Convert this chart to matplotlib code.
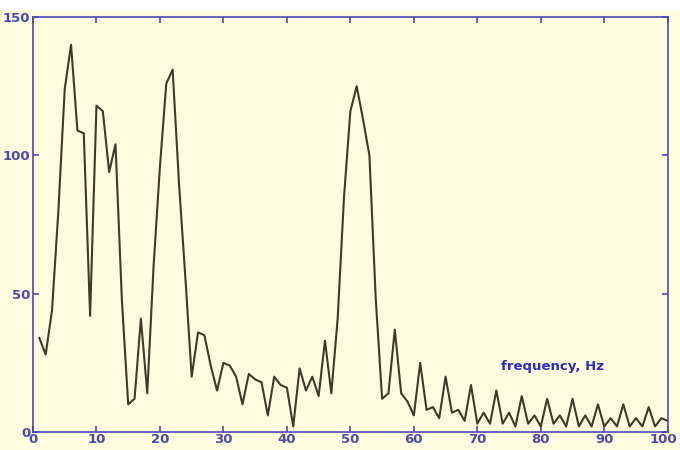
import numpy as np
import matplotlib
matplotlib.use('Agg')
import matplotlib.pyplot as plt
import matplotlib.transforms as mtransforms
from matplotlib.patches import Rectangle

# Amplitude spectrum, one value per 1 Hz bin
freq = np.arange(1, 101)
amplitude = [34, 28, 44, 80, 124, 140, 109, 108, 42, 118,
             116, 94, 104, 48, 10, 12, 41, 14, 60, 96,
             126, 131, 90, 56, 20, 36, 35, 24, 15, 25,
             24, 20, 10, 21, 19, 18, 6, 20, 17, 16,
             2, 23, 15, 20, 13, 33, 14, 41, 85, 116,
             125, 113, 100, 48, 12, 14, 37, 14, 11, 6,
             25, 8, 9, 5, 20, 7, 8, 4, 17, 3,
             7, 3, 15, 3, 7, 2, 13, 3, 6, 2,
             12, 3, 6, 2, 12, 2, 6, 2, 10, 2,
             5, 2, 10, 2, 5, 2, 9, 2, 5, 4]

x_ticks = [0, 10, 20, 30, 40, 50, 60, 70, 80, 90, 100]
y_ticks = [0, 50, 100, 150]

bg = '#fffde0'
axis_blue = '#4a4ab4'
label_blue = '#2c2cc8'

fig = plt.figure(figsize=(6.8, 4.5), dpi=100, facecolor=bg)
ax = fig.add_axes([0.0485, 0.04, 0.9335, 0.922], facecolor=bg)

ax.plot(freq, amplitude, color='#3c3c28', linewidth=1.5)

ax.set_xlim(0, 100)
ax.set_ylim(0, 150)
ax.set_xticks(x_ticks)
ax.set_yticks(y_ticks)

for s in ax.spines.values():
    s.set_color(axis_blue)
    s.set_linewidth(1.2)

ax.tick_params(direction='in', top=True, right=True, length=4, width=1.2,
               color=axis_blue, labelcolor=axis_blue, labelsize=9.5, pad=2)
ax.tick_params(axis='x', pad=1)
for lab in ax.get_xticklabels() + ax.get_yticklabels():
    lab.set_fontweight('bold')

# nudge the last x label so it stays on the canvas
last = ax.get_xticklabels()[-1]
last.set_transform(last.get_transform() +
                   mtransforms.ScaledTranslation(-3 / 72, 0, fig.dpi_scale_trans))

# x label sits inside the plot area, lower right
ax.text(0.819, 0.157, 'frequency, Hz', transform=ax.transAxes, ha='center', va='center',
        color=label_blue, fontsize=9.5, fontweight='bold')

# white strip along the top edge
fig.patches.append(Rectangle((0, 0.978), 1, 0.022, transform=fig.transFigure,
                             facecolor='white', edgecolor='none', zorder=-1))

fig.savefig('out.png', dpi=100, facecolor=bg)
